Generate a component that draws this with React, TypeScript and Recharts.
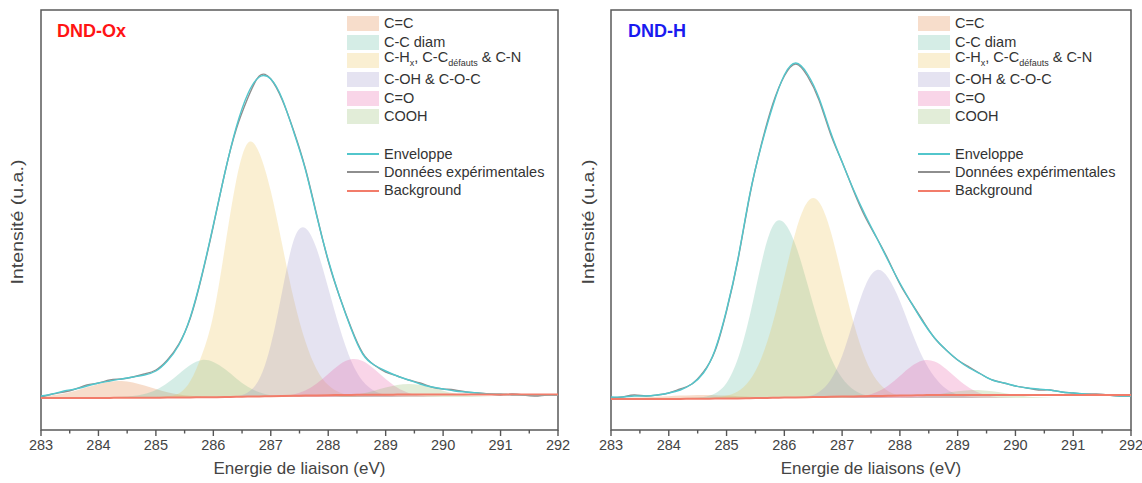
import React from 'react'
import {
  ComposedChart,
  Area,
  Line,
  XAxis,
  YAxis,
  ReferenceArea,
  Legend,
  Customized,
} from 'recharts'

// binding energy grid (eV)
const energies = [
  283.0, 283.2, 283.4, 283.6, 283.8, 284.0, 284.2, 284.4, 284.6, 284.8,
  285.0, 285.2, 285.4, 285.6, 285.8, 286.0, 286.2, 286.4, 286.6, 286.8,
  287.0, 287.2, 287.4, 287.6, 287.8, 288.0, 288.2, 288.4, 288.6, 288.8,
  289.0, 289.2, 289.4, 289.6, 289.8, 290.0, 290.2, 290.4, 290.6, 290.8,
  291.0, 291.2, 291.4, 291.6, 291.8, 292.0,
]

const majorTicks = [283, 284, 285, 286, 287, 288, 289, 290, 291, 292]
const minorTicks = [283.5, 284.5, 285.5, 286.5, 287.5, 288.5, 289.5, 290.5, 291.5]

// DND-Ox
const ccOx = [
  0.8, 1.8, 3.6, 6.3, 9.7, 13.1, 15.4, 15.9, 14.4, 11.4,
  8, 4.8, 2.6, 1.2, 0.5, 0.2, 0, 0, 0, 0,
  0, 0, 0, 0, 0, 0, 0, 0, 0, 0,
  0, 0, 0, 0, 0, 0, 0, 0, 0, 0,
  0, 0, 0, 0, 0, 0,
]
const diamOx = [
  0, 0, 0, 0, 0, 0, 0, 0.3, 1, 3,
  7, 14, 23, 32, 37, 35, 28, 18.6, 10.3, 4.8,
  1.8, 0.6, 0.2, 0, 0, 0, 0, 0, 0, 0,
  0, 0, 0, 0, 0, 0, 0, 0, 0, 0,
  0, 0, 0, 0, 0, 0,
]
const chOx = [
  0, 0, 0, 0, 0, 0, 0, 0, 0, 0,
  0, 0.8, 3.6, 16, 42, 82, 149, 217, 254, 244,
  206, 152, 98, 56, 27.6, 12, 4.6, 1.5, 0.4, 0,
  0, 0, 0, 0, 0, 0, 0, 0, 0, 0,
  0, 0, 0, 0, 0, 0,
]
const cohOx = [
  0, 0, 0, 0, 0, 0, 0, 0, 0, 0,
  0, 0, 0, 0, 0, 0, 0.1, 0.8, 4.6, 18,
  52, 106, 157, 169, 148, 109, 69, 36, 16, 6.2,
  2, 0.6, 0, 0, 0, 0, 0, 0, 0, 0,
  0, 0, 0, 0, 0, 0,
]
const coOx = [
  0, 0, 0, 0, 0, 0, 0, 0, 0, 0,
  0, 0, 0, 0, 0, 0, 0, 0, 0, 0,
  0.2, 0.8, 2.5, 6.4, 13.4, 23, 32.6, 37.8, 36, 28,
  18, 9.5, 4.1, 1.4, 0.4, 0, 0, 0, 0, 0,
  0, 0, 0, 0, 0, 0,
]
const coohOx = [
  0, 0, 0, 0, 0, 0, 0, 0, 0, 0,
  0, 0, 0, 0, 0, 0, 0, 0, 0, 0,
  0, 0, 0, 0, 0, 0, 0.7, 1.8, 3.6, 6.3,
  9.4, 12, 13, 12, 9.4, 6.3, 3.6, 1.8, 0.7, 0.2,
  0, 0, 0, 0, 0, 0,
]
const envOx = [
  1, 3, 6, 8, 11, 14, 16, 18, 20, 22,
  26, 36, 52, 80, 122, 172, 224, 270, 303, 320,
  318, 298, 265, 228, 181, 137, 100, 68, 43, 32,
  26, 21, 17, 13, 10, 8, 6, 5, 4, 3,
  3, 2, 2, 2, 2, 2,
]
const expOx = [
  0, 3, 5, 8, 12, 14, 17, 18, 20, 23,
  27, 37, 53, 79, 121, 171, 224, 268, 299, 321,
  318, 297, 266, 229, 182, 136, 100, 69, 44, 32,
  25, 21, 17, 14, 10, 8, 7, 5, 4, 3,
  2, 3, 2, 1, 2, 2,
]
const bgOx = [
  -1, -1, -1, -1, -1, -0.9, -0.9, -0.8, -0.8, -0.7,
  -0.7, -0.6, -0.5, -0.4, -0.3, -0.2, 0, 0.2, 0.4, 0.6,
  0.8, 1, 1.2, 1.4, 1.6, 1.8, 2, 2.1, 2.2, 2.3,
  2.3, 2.4, 2.4, 2.4, 2.5, 2.5, 2.5, 2.5, 2.5, 2.5,
  2.5, 2.5, 2.5, 2.5, 2.5, 2.5,
]

// DND-H
const ccH = [
  0, 0, 0.4, 0.75, 1.2, 1.8, 2.4, 2.85, 3, 2.85,
  2.4, 1.8, 1.2, 0.75, 0.4, 0.2, 0, 0, 0, 0,
  0, 0, 0, 0, 0, 0, 0, 0, 0, 0,
  0, 0, 0, 0, 0, 0, 0, 0, 0, 0,
  0, 0, 0, 0, 0, 0,
]
const diamH = [
  0, 0, 0, 0, 0, 0, 0, 0.2, 1.1, 4.5,
  15, 40, 82, 134, 172, 175, 152, 114, 74, 41,
  20, 8.2, 2.9, 0.9, 0.2, 0, 0, 0, 0, 0,
  0, 0, 0, 0, 0, 0, 0, 0, 0, 0,
  0, 0, 0, 0, 0, 0,
]
const chH = [
  0, 0, 0, 0, 0, 0, 0, 0, 0, 0.6,
  2.2, 6.8, 17.8, 39.6, 75, 121, 167, 196, 196, 167,
  121, 75, 39.6, 17.8, 6.8, 2.2, 0.6, 0, 0, 0,
  0, 0, 0, 0, 0, 0, 0, 0, 0, 0,
  0, 0, 0, 0, 0, 0,
]
const cohH = [
  0, 0, 0, 0, 0, 0, 0, 0, 0, 0,
  0, 0, 0, 0, 0, 0, 0.3, 1.6, 6.1, 18,
  42, 78, 112, 128, 120, 97, 67, 40, 21, 9.3,
  3.6, 1.2, 0.3, 0, 0, 0, 0, 0, 0, 0,
  0, 0, 0, 0, 0, 0,
]
const coH = [
  0, 0, 0, 0, 0, 0, 0, 0, 0, 0,
  0, 0, 0, 0, 0, 0, 0, 0, 0, 0,
  0, 0.7, 2.2, 5.9, 12.5, 22, 31.7, 37.5, 36.4, 29,
  19, 10.2, 4.5, 1.6, 0.5, 0, 0, 0, 0, 0,
  0, 0, 0, 0, 0, 0,
]
const coohH = [
  0, 0, 0, 0, 0, 0, 0, 0, 0, 0,
  0, 0, 0, 0, 0, 0, 0, 0, 0, 0,
  0, 0, 0, 0, 0, 0, 0.7, 1.6, 3, 4.9,
  6.7, 7.8, 7.8, 6.7, 4.9, 3, 1.6, 0.7, 0.2, 0,
  0, 0, 0, 0, 0, 0,
]
const envH = [
  1, 1, 2, 2, 3, 5, 8, 14, 25, 48,
  88, 140, 203, 252, 292, 323, 335, 324, 300, 266,
  236, 208, 183, 160, 137, 115, 95, 76, 60, 48,
  38, 30, 24, 18, 15, 12, 10, 9, 8, 6,
  5, 4, 3, 3, 2, 2,
]
const expH = [
  0, 1, 3, 2, 3, 5, 9, 14, 26, 47,
  87, 139, 202, 253, 294, 322, 334, 322, 298, 264,
  236, 207, 181, 160, 138, 114, 95, 77, 60, 48,
  38, 31, 24, 18, 15, 12, 10, 8, 8, 6,
  5, 4, 4, 3, 2, 2,
]
const bgH = [
  -1, -1, -1, -1, -1, -1, -0.9, -0.8, -0.7, -0.6,
  -0.5, -0.4, -0.2, 0, 0.2, 0.4, 0.6, 0.8, 1, 1.2,
  1.4, 1.6, 1.8, 2, 2.2, 2.4, 2.6, 2.8, 3, 3,
  3, 3, 3, 3, 3, 3, 3, 3, 3, 3,
  3, 3, 3, 3, 3, 3,
]

const FONT = '"Liberation Sans", Arial, sans-serif'
const FILL_OPACITY = 0.25

const components = [
  { key: 'cc', color: '#DF772F', label: <>C=C</> },
  { key: 'diam', color: '#57B79B', label: <>C-C diam</> },
  {
    key: 'ch',
    color: '#EBBF4B',
    label: (
      <>
        C-H<sub style={{ fontSize: 9 }}>x</sub>, C-C
        <sub style={{ fontSize: 9 }}>défauts</sub> &amp; C-N
      </>
    ),
  },
  { key: 'coh', color: '#978FC7', label: <>C-OH &amp; C-O-C</> },
  { key: 'co', color: '#E757A3', label: <>C=O</> },
  { key: 'cooh', color: '#8BB763', label: <>COOH</> },
]

const lines = [
  { key: 'exp', color: '#8E8E8E', label: 'Données expérimentales', width: 1.4 },
  { key: 'env', color: '#52C6CC', label: 'Enveloppe', width: 1.4 },
  { key: 'bg', color: '#F27C6A', label: 'Background', width: 2 },
]
const legendLineOrder = ['env', 'exp', 'bg']

function buildRows(series: Record<string, number[]>) {
  return energies.map((e, i) => {
    const row: Record<string, number> = { e }
    Object.keys(series).forEach((k) => {
      row[k] = series[k][i]
    })
    return row
  })
}

const oxRows = buildRows({
  cc: ccOx, diam: diamOx, ch: chOx, coh: cohOx, co: coOx, cooh: coohOx,
  env: envOx, exp: expOx, bg: bgOx,
})
const hRows = buildRows({
  cc: ccH, diam: diamH, ch: chH, coh: cohH, co: coH, cooh: coohH,
  env: envH, exp: expH, bg: bgH,
})

function EnergyTick(props: any) {
  const { x, y, payload } = props
  const major = Number.isInteger(payload.value)
  return (
    <g>
      <line x1={x} x2={x} y1={y} y2={y + (major ? 6 : 3.5)} stroke="#555" strokeWidth={1.4} />
      {major && (
        <text x={x} y={y + 20} textAnchor="middle" fill="#444" fontSize={14.5} fontFamily={FONT}>
          {payload.value}
        </text>
      )}
    </g>
  )
}

function LegendBox() {
  return (
    <div style={{ fontFamily: FONT, fontSize: 14.5, color: '#333', lineHeight: '18.7px' }}>
      {components.map((c) => (
        <div key={c.key} style={{ display: 'flex', alignItems: 'center', height: 18.7 }}>
          <span
            style={{
              display: 'inline-block', width: 32, height: 15, marginRight: 5,
              background: c.color, opacity: FILL_OPACITY,
            }}
          />
          <span style={{ whiteSpace: 'nowrap' }}>{c.label}</span>
        </div>
      ))}
      <div style={{ height: 18.7 }} />
      {legendLineOrder.map((k) => {
        const l = lines.find((x) => x.key === k)!
        return (
          <div key={k} style={{ display: 'flex', alignItems: 'center', height: 18.3 }}>
            <span
              style={{
                display: 'inline-block', width: 32, height: 2, marginRight: 5,
                background: l.color,
              }}
            />
            <span style={{ whiteSpace: 'nowrap' }}>{l.label}</span>
          </div>
        )
      })}
    </div>
  )
}

function PanelText(props: any) {
  const { title, color } = props
  return (
    <g fontFamily={FONT}>
      <text x={57} y={37} fill={color} fontSize={18} fontWeight="bold">
        {title}
      </text>
      <text
        transform="translate(17,222) rotate(-90) scale(1.15,1)"
        textAnchor="middle"
        dominantBaseline="central"
        fill="#444"
        fontSize={17}
      >
        Intensité (u.a.)
      </text>
    </g>
  )
}

interface PanelProps {
  rows: Record<string, number>[]
  title: string
  titleColor: string
  xLabel: string
  yDomain: [number, number]
  marginLeft: number
  marginRight: number
}

function Panel({ rows, title, titleColor, xLabel, yDomain, marginLeft, marginRight }: PanelProps) {
  return (
    <ComposedChart
      width={571}
      height={483}
      data={rows}
      margin={{ top: 10, right: marginRight, left: marginLeft, bottom: 6 }}
    >
      <XAxis
        dataKey="e"
        type="number"
        domain={[283, 292]}
        ticks={[...majorTicks, ...minorTicks].sort((a, b) => a - b)}
        interval={0}
        tick={<EnergyTick />}
        tickLine={false}
        axisLine={false}
        tickSize={0}
        tickMargin={0}
        height={47}
        label={{ value: xLabel, position: 'insideBottom', offset: 3, fill: '#444', fontSize: 17, fontFamily: FONT }}
      />
      <YAxis hide type="number" domain={yDomain} allowDataOverflow />
      {components.map((c) => (
        <Area
          key={c.key}
          type="natural"
          dataKey={c.key}
          stroke="none"
          fill={c.color}
          fillOpacity={FILL_OPACITY}
          baseValue={0}
          dot={false}
          activeDot={false}
          isAnimationActive={false}
        />
      ))}
      {lines.map((l) => (
        <Line
          key={l.key}
          type={l.key === 'bg' ? 'monotone' : 'natural'}
          dataKey={l.key}
          stroke={l.color}
          strokeWidth={l.width}
          dot={false}
          activeDot={false}
          isAnimationActive={false}
        />
      ))}
      <ReferenceArea
        x1={283}
        x2={292}
        y1={yDomain[0]}
        y2={yDomain[1]}
        fill="none"
        stroke="#5a5a5a"
        strokeWidth={1.5}
        ifOverflow="visible"
      />
      <Customized component={<PanelText title={title} color={titleColor} />} />
      <Legend
        layout="vertical"
        align="center"
        verticalAlign="middle"
        wrapperStyle={{ position: 'absolute', top: 14, left: 347, width: 215 }}
        content={<LegendBox />}
      />
    </ComposedChart>
  )
}

export default function App() {
  return (
    <div style={{ position: 'absolute', left: 0, top: 0, width: 1142, height: 483, display: 'flex', background: '#fff' }}>
      <Panel
        rows={oxRows}
        title="DND-Ox"
        titleColor="#FF1414"
        xLabel="Energie de liaison (eV)"
        yDomain={[-33, 387]}
        marginLeft={41}
        marginRight={13}
      />
      <Panel
        rows={hRows}
        title="DND-H"
        titleColor="#1A1AF0"
        xLabel="Energie de liaisons (eV)"
        yDomain={[-32, 388]}
        marginLeft={40}
        marginRight={11}
      />
    </div>
  )
}
